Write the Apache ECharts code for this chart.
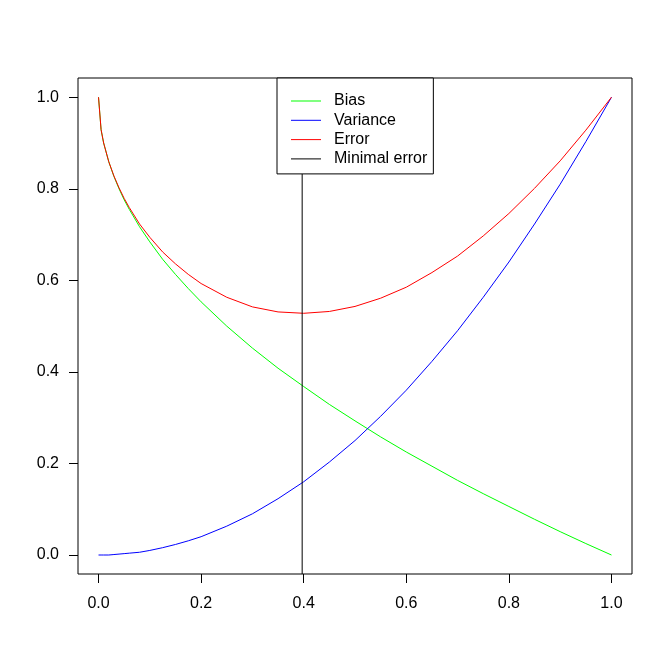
<!DOCTYPE html>
<html>
<head>
<meta charset="utf-8">
<script src="https://cdn.jsdelivr.net/npm/echarts@6/dist/echarts.min.js"></script>
<style>
html,body{margin:0;padding:0;background:#fff;}
#chart{width:672px;height:672px;}
</style>
</head>
<body>
<div id="chart"></div>
<script>
// ---- data ----
var xValues = [0, 0.005, 0.01, 0.02, 0.03, 0.04, 0.05, 0.06, 0.08, 0.10, 0.125, 0.15, 0.175, 0.2, 0.25, 0.3, 0.35, 0.4, 0.45, 0.5, 0.55, 0.6, 0.65, 0.7, 0.75, 0.8, 0.85, 0.9, 0.95, 1.0];
var biasValues = [1.000, 0.929, 0.900, 0.859, 0.827, 0.800, 0.776, 0.755, 0.717, 0.684, 0.646, 0.613, 0.582, 0.553, 0.500, 0.452, 0.408, 0.368, 0.329, 0.293, 0.258, 0.225, 0.194, 0.163, 0.134, 0.106, 0.078, 0.051, 0.025, 0.000];
var varianceValues = [0.000, 0.000, 0.000, 0.000, 0.001, 0.002, 0.003, 0.004, 0.006, 0.010, 0.016, 0.023, 0.031, 0.040, 0.063, 0.090, 0.123, 0.160, 0.203, 0.250, 0.303, 0.360, 0.423, 0.490, 0.563, 0.640, 0.723, 0.810, 0.903, 1.000];
var errorValues = [1.000, 0.929, 0.900, 0.859, 0.828, 0.802, 0.779, 0.759, 0.723, 0.694, 0.662, 0.636, 0.613, 0.593, 0.563, 0.542, 0.531, 0.528, 0.532, 0.543, 0.561, 0.585, 0.617, 0.653, 0.697, 0.746, 0.801, 0.861, 0.928, 1.000];
var minimalErrorX = 0.397;
var xTicks = [0, 0.2, 0.4, 0.6, 0.8, 1.0];
var yTicks = [0, 0.2, 0.4, 0.6, 0.8, 1.0];
var seriesNames = ['Bias', 'Variance', 'Error', 'Minimal error'];

var xMin = -0.04, xMax = 1.04, yMin = -0.0415, yMax = 1.042;

function pairs(xs, ys) { return xs.map(function (x, i) { return [x, ys[i]]; }); }

var FONT = 'Liberation Sans, Arial, sans-serif';
var chart = echarts.init(document.getElementById('chart'), null, {renderer: 'canvas'});
var axisCommon = {
  type: 'value',
  splitLine: {show: false},
  axisLine: {show: false, onZero: false},
  axisTick: {show: true, inside: false, length: 9, lineStyle: {color: '#000', width: 1}},
  axisLabel: {color: '#000', fontFamily: FONT, fontSize: 16,
    formatter: function (v) { return Number(v).toFixed(1); }}
};
chart.setOption({
  animation: false,
  backgroundColor: '#fff',
  grid: {left: 78, right: 40, top: 78, bottom: 98, show: true, borderColor: '#000', borderWidth: 1, backgroundColor: 'transparent'},
  xAxis: Object.assign({}, axisCommon, {
    min: xMin, max: xMax,
    axisTick: Object.assign({}, axisCommon.axisTick, {customValues: xTicks}),
    axisLabel: Object.assign({}, axisCommon.axisLabel, {customValues: xTicks, margin: 22})
  }),
  yAxis: Object.assign({}, axisCommon, {
    min: yMin, max: yMax,
    axisTick: Object.assign({}, axisCommon.axisTick, {customValues: yTicks}),
    axisLabel: Object.assign({}, axisCommon.axisLabel, {customValues: yTicks, margin: 19})
  }),
  legend: {
    left: 277, top: 78, orient: 'vertical',
    data: seriesNames,
    icon: 'rect',
    backgroundColor: '#fff', borderColor: '#000', borderWidth: 1, borderRadius: 0,
    padding: [15, 6, 7, 14],
    itemWidth: 30, itemHeight: 1, itemGap: 3.3,
    selectedMode: false,
    textStyle: {color: '#000', fontFamily: FONT, fontSize: 16, lineHeight: 16, padding: [0, 0, 0, 8]},
    z: 10
  },
  series: [
    {name: 'Bias', type: 'line', data: pairs(xValues, biasValues), symbol: 'none', lineStyle: {color: '#00FF00', width: 1}, itemStyle: {color: '#00FF00'}},
    {name: 'Variance', type: 'line', data: pairs(xValues, varianceValues), symbol: 'none', lineStyle: {color: '#0000FF', width: 1}, itemStyle: {color: '#0000FF'}},
    {name: 'Error', type: 'line', data: pairs(xValues, errorValues), symbol: 'none', lineStyle: {color: '#FF0000', width: 1}, itemStyle: {color: '#FF0000'}},
    {name: 'Minimal error', type: 'line', data: [[minimalErrorX, yMin], [minimalErrorX, yMax]], symbol: 'none', lineStyle: {color: '#000', width: 1}, itemStyle: {color: '#000'}}
  ]
});
</script>
</body>
</html>
